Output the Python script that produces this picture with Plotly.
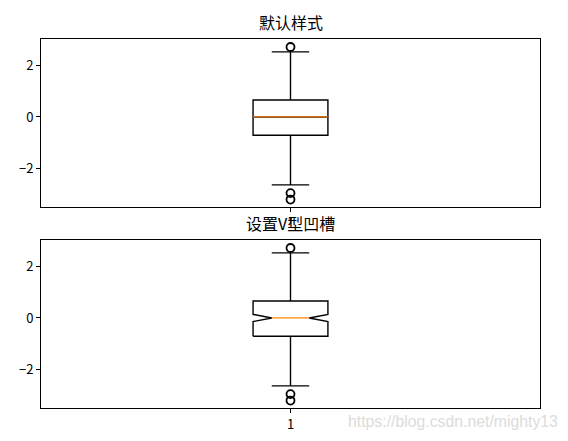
import plotly.graph_objects as go

# box statistics (same sample in both panels)
titles = ["默认样式", "设置V型凹槽"]
q1 = -0.71
median = 0.0
q3 = 0.66
lower_whisker = -2.64
upper_whisker = 2.53
outliers = [2.72, -2.96, -3.21]
notch_span = 0.14
positions = [1]

box_w = 0.15
font = "Noto Sans CJK SC"
p = positions[0]
hw = box_w / 2

fig = go.Figure()

# top panel: default box
fig.add_trace(go.Box(
    x=positions, q1=[q1], median=[median], q3=[q3],
    lowerfence=[lower_whisker], upperfence=[upper_whisker],
    width=box_w, whiskerwidth=0.5,
    fillcolor="rgba(0,0,0,0)", line=dict(color="black", width=1.4),
    boxpoints=False, showlegend=False, hoverinfo="skip",
))
fig.add_trace(go.Scatter(x=[p - hw, p + hw], y=[median, median], mode="lines",
                         line=dict(color="#ff7f0e", width=1.3),
                         showlegend=False, hoverinfo="skip"))

# bottom panel: notched box outline built from the same stats (matplotlib style V notch)
lo, hi = median - notch_span, median + notch_span
fig.add_trace(go.Scatter(
    x=[p - hw, p - hw, p - hw / 2, p - hw, p - hw, p + hw, p + hw, p + hw / 2, p + hw, p + hw, p - hw],
    y=[q1, lo, median, hi, q3, q3, hi, median, lo, q1, q1],
    mode="lines", line=dict(color="black", width=1.4),
    xaxis="x2", yaxis="y2", showlegend=False, hoverinfo="skip",
))
fig.add_trace(go.Scatter(
    x=[p, p, None, p, p, None, p - hw / 2, p + hw / 2, None, p - hw / 2, p + hw / 2],
    y=[q3, upper_whisker, None, q1, lower_whisker, None,
       upper_whisker, upper_whisker, None, lower_whisker, lower_whisker],
    mode="lines", line=dict(color="black", width=1.4),
    xaxis="x2", yaxis="y2", showlegend=False, hoverinfo="skip",
))
fig.add_trace(go.Scatter(x=[p - hw / 2, p + hw / 2], y=[median, median], mode="lines",
                         line=dict(color="#ff7f0e", width=1.3),
                         xaxis="x2", yaxis="y2", showlegend=False, hoverinfo="skip"))

for xa, ya in [("x", "y"), ("x2", "y2")]:
    fig.add_trace(go.Scatter(
        x=positions * len(outliers), y=outliers, mode="markers",
        marker=dict(symbol="circle-open", size=8, color="black", line=dict(width=1.8)),
        xaxis=xa, yaxis=ya, showlegend=False, hoverinfo="skip",
    ))

axis_common = dict(showline=True, mirror=True, linecolor="black", linewidth=1,
                   ticks="outside", ticklen=4, tickcolor="black", showgrid=False,
                   zeroline=False, tickfont=dict(family=font, size=13, color="black"))

# page body adds an 8px offset, so the figure is 8px smaller than the window
fig.update_layout(
    width=560, height=433,
    margin=dict(l=0, r=0, t=0, b=0, autoexpand=False),
    plot_bgcolor="white", paper_bgcolor="white",
    font=dict(family=font, color="black"),
    xaxis=dict(domain=[0.0589, 0.95], range=[0.5, 1.5], tickvals=positions,
               anchor="y", **axis_common),
    yaxis=dict(domain=[0.5404, 0.9284], range=[-3.5, 3.03], tickvals=[-2, 0, 2],
               ticktext=["\u22122", "0", "2"], anchor="x", **axis_common),
    xaxis2=dict(domain=[0.0589, 0.95], range=[0.5, 1.5], tickvals=positions,
                anchor="y2", **axis_common),
    yaxis2=dict(domain=[0.0762, 0.4642], range=[-3.5, 3.03], tickvals=[-2, 0, 2],
                ticktext=["\u22122", "0", "2"], anchor="x2", **axis_common),
    annotations=[
        dict(text=titles[0], x=0.5045, y=0.9284, xref="paper", yref="paper",
             xanchor="center", yanchor="bottom", yshift=3, showarrow=False,
             font=dict(family=font, size=16, color="black")),
        dict(text=titles[1], x=0.5045, y=0.4642, xref="paper", yref="paper",
             xanchor="center", yanchor="bottom", yshift=3, showarrow=False,
             font=dict(family=font, size=16, color="black")),
        dict(text="https://blog.csdn.net/mighty13", x=0.9857, y=0.0446,
             xref="paper", yref="paper", xanchor="right", yanchor="middle",
             showarrow=False, font=dict(family="Liberation Sans", size=15.8, color="#dcdcdc")),
    ],
)

fig.write_html("out.html")
